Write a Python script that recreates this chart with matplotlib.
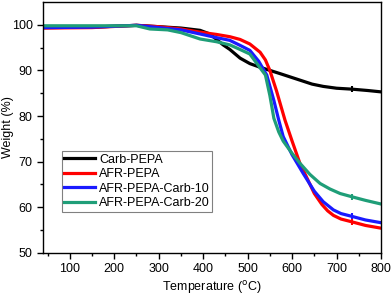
import matplotlib.pyplot as plt

plt.rcParams['font.family'] = ['Liberation Sans', 'DejaVu Sans']

# Carb-PEPA
t_carb = [40, 150, 250, 300, 350, 393, 415, 430, 445, 460, 483, 505, 528, 573,
          620, 645, 670, 700, 734, 770, 800]
w_carb = [99.4, 99.5, 99.9, 99.6, 99.3, 98.8, 98.0, 96.8, 95.6, 94.6, 92.7, 91.5,
          90.7, 89.3, 87.8, 87.0, 86.5, 86.1, 85.9, 85.6, 85.3]

# AFR-PEPA
t_afr = [40, 150, 250, 300, 350, 393, 430, 460, 483, 505, 528, 540, 550, 565,
         584, 600, 618, 633, 650, 667, 680, 693, 710, 734, 765, 800]
w_afr = [99.3, 99.4, 99.9, 99.6, 99.1, 98.4, 97.9, 97.4, 96.8, 95.8, 94.0, 92.3,
         90.0, 85.5, 79.1, 74.5, 69.5, 66.5, 63.0, 60.6, 59.2, 58.2, 57.4, 56.8,
         56.0, 55.4]

# AFR-PEPA-Carb-10
t_c10 = [40, 150, 250, 300, 350, 393, 430, 460, 483, 505, 525, 543, 559, 570,
         580, 600, 625, 650, 670, 693, 710, 734, 765, 800]
w_c10 = [99.4, 99.5, 99.9, 99.4, 98.9, 98.0, 97.2, 96.6, 95.5, 94.4, 92.0, 89.0,
         83.4, 79.1, 75.5, 71.5, 67.4, 63.5, 61.2, 59.4, 58.6, 58.0, 57.2, 56.6]

# AFR-PEPA-Carb-20
t_c20 = [40, 150, 250, 280, 320, 350, 393, 430, 460, 483, 505, 527, 540, 550,
         559, 570, 580, 600, 618, 640, 663, 685, 708, 734, 765, 800]
w_c20 = [99.8, 99.8, 99.8, 99.1, 98.9, 98.3, 96.9, 96.3, 95.6, 94.6, 93.6, 90.7,
         89.0, 84.5, 79.5, 76.5, 74.5, 71.8, 69.6, 67.2, 65.2, 64.0, 63.0, 62.3,
         61.5, 60.7]

series = [
    (t_carb, w_carb, 'black', 'Carb-PEPA'),
    (t_afr, w_afr, '#ff0000', 'AFR-PEPA'),
    (t_c10, w_c10, '#1a1aff', 'AFR-PEPA-Carb-10'),
    (t_c20, w_c20, '#1f9e78', 'AFR-PEPA-Carb-20'),
]

fig = plt.figure(figsize=(3.92, 2.96), dpi=100)
ax = fig.add_axes([0.11, 0.146, 0.862, 0.847])

for t, w, c, lab in series:
    ax.plot(t, w, color=c, lw=2.3, label=lab)
    # small instrument tick on each curve
    i = t.index(734)
    ax.plot(t[i], w[i], color=c, marker='|', ms=4, mew=1.5)

ax.set_xlim(40, 800)
ax.set_ylim(50, 105)
ax.set_xticks([100, 200, 300, 400, 500, 600, 700, 800])
ax.set_xticks(range(50, 801, 50), minor=True)
ax.set_yticks([50, 60, 70, 80, 90, 100])
ax.set_yticks(range(50, 105, 5), minor=True)
ax.tick_params(direction='out', length=4, width=1, labelsize=9)
ax.tick_params(which='minor', direction='out', length=2.5, width=1)
for s in ax.spines.values():
    s.set_linewidth(1)

ax.set_xlabel(r'Temperature ($^{\rm o}$C)', fontsize=9, labelpad=3)
ax.set_ylabel('Weight (%)', fontsize=9, va='center')
ax.yaxis.set_label_coords(-0.105, 0.5)

leg = ax.legend(loc='upper left', bbox_to_anchor=(0.055, 0.405), fontsize=9,
                fancybox=False, edgecolor='gray', framealpha=1, borderpad=0.2,
                labelspacing=0.2, handlelength=2.5, handletextpad=0.3,
                borderaxespad=0)
leg.get_frame().set_linewidth(0.8)

fig.savefig('out.png', dpi=100)
